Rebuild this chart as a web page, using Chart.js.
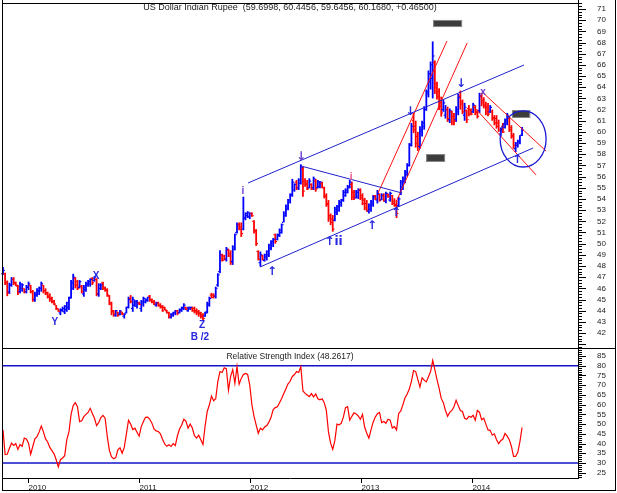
<!DOCTYPE html>
<html>
<head>
<meta charset="utf-8">
<script src="https://cdn.jsdelivr.net/npm/chart.js@4.4.1/dist/chart.umd.min.js"></script>
<style>
  html, body { margin: 0; padding: 0; background: #fff; overflow: hidden; }
  #wrap { position: relative; width: 617px; height: 493px; }
  #price { position: absolute; left: 0; top: 0; }
  #rsi { position: absolute; left: 0; top: 348px; }
</style>
</head>
<body>
<div id="wrap">
  <canvas id="price" width="617" height="348"></canvas>
  <canvas id="rsi" width="617" height="145"></canvas>
</div>
<script>
// weekly bars, the first one is the week ending 9 Oct 2009
const startDate = "2009-10-09";

const opens = [
  47.3, 47.3, 46.5, 45.7, 46.3, 46.8, 46.5, 46.2, 45.7, 46.0,
  46.0, 45.7, 46.1, 46.3, 45.7, 45.0, 45.4, 45.7, 46.0, 46.3,
  45.8, 45.6, 45.3, 45.1, 44.8, 44.5, 44.2, 43.8, 44.0, 43.9,
  44.1, 44.3, 45.2, 46.0, 46.9, 46.6, 46.1, 46.2, 45.5, 45.9,
  46.3, 46.4, 46.9, 46.7, 46.8, 45.5, 46.0, 46.5, 46.1, 45.9,
  45.3, 44.7, 44.0, 43.6, 43.9, 43.7, 43.9, 43.5, 43.8, 44.3,
  45.1, 44.2, 44.5, 44.4, 44.7, 44.2, 44.6, 44.8, 44.9, 45.3,
  45.0, 44.8, 44.5, 44.7, 44.5, 44.4, 44.3, 44.0, 43.8, 43.4,
  43.6, 43.8, 44.0, 43.8, 44.0, 44.2, 44.3, 44.0, 44.2, 44.2,
  44.2, 44.0, 43.9, 43.8, 43.6, 43.5, 43.9, 44.5, 45.4, 45.4,
  45.3, 46.3, 47.5, 49.0, 48.9, 48.6, 49.4, 49.1, 48.4, 49.5,
  51.0, 51.7, 51.5, 51.3, 52.3, 52.5, 52.4, 52.7, 52.0, 51.2,
  49.3, 48.3, 48.9, 48.5, 48.8, 49.0, 49.6, 50.0, 50.8, 50.4,
  50.7, 51.0, 51.9, 52.5, 53.1, 53.7, 54.3, 54.8, 55.5, 55.0,
  55.4, 56.7, 55.6, 55.4, 55.0, 55.3, 55.0, 55.6, 55.0, 55.1,
  55.4, 55.0, 54.3, 53.6, 52.5, 52.2, 52.1, 52.8, 53.0, 53.5,
  53.9, 54.3, 54.6, 55.0, 55.3, 54.6, 54.1, 54.2, 54.8, 54.3,
  53.9, 53.6, 52.9, 53.1, 53.5, 54.3, 53.9, 54.4, 53.9, 54.3,
  53.8, 54.4, 53.9, 54.3, 53.8, 53.5, 53.4, 54.4, 55.0, 55.6,
  56.2, 57.0, 58.9, 61.0, 60.5, 59.6, 58.7, 60.0, 60.5, 62.0,
  63.4, 64.5, 64.8, 66.2, 64.3, 63.6, 62.8, 62.0, 61.5, 62.0,
  61.1, 61.8, 61.4, 61.1, 61.8, 63.2, 62.7, 61.5, 61.9, 62.1,
  62.0, 61.8, 62.2, 61.8, 61.9, 63.2, 62.8, 62.4, 62.2, 61.8,
  61.8, 61.3, 61.2, 60.8, 59.8, 60.5, 60.4, 60.8, 61.2, 60.4,
  59.7, 58.5, 58.8, 59.1, 59.6998
];
const highs = [
  47.9, 47.4, 46.7, 46.5, 47.0, 47.0, 46.6, 46.3, 46.6, 46.45,
  46.0, 46.3, 46.6, 46.3, 45.85, 45.7, 46.0, 46.15, 46.6, 46.3,
  46.0, 45.7, 45.55, 45.25, 44.95, 44.5, 44.2, 44.2, 44.36, 44.5,
  44.8, 45.25, 46.74, 47.3, 47.0, 46.74, 46.74, 46.3, 46.3, 46.6,
  46.74, 46.9, 47.0, 47.1, 46.9, 46.45, 46.45, 46.6, 46.15, 46.0,
  45.4, 44.8, 44.06, 44.06, 43.9, 44.06, 43.9, 43.76, 44.36, 45.25,
  45.4, 45.25, 44.95, 44.95, 44.8, 44.95, 45.25, 45.1, 45.25, 45.4,
  45.1, 44.95, 44.8, 44.8, 44.66, 44.5, 44.36, 44.06, 43.9, 43.76,
  43.9, 44.06, 44.06, 44.2, 44.36, 44.66, 44.36, 44.36, 44.36, 44.36,
  44.36, 44.2, 44.06, 43.9, 43.76, 43.9, 44.8, 45.25, 45.6, 45.55,
  46.15, 47.35, 49.4, 49.1, 49.0, 49.7, 49.55, 49.4, 49.85, 50.9,
  51.9, 51.9, 51.9, 54.2, 52.8, 52.9, 52.8, 52.8, 52.1, 51.3,
  49.4, 49.3, 49.0, 49.1, 49.4, 50.0, 50.3, 50.5, 50.9, 50.9,
  51.35, 51.8, 52.9, 53.5, 54.0, 54.5, 55.8, 55.4, 55.7, 55.85,
  57.1, 56.9, 55.85, 55.7, 55.85, 55.4, 56.0, 55.8, 55.7, 55.6,
  55.55, 55.1, 54.5, 53.9, 52.7, 52.56, 53.3, 53.45, 53.9, 54.0,
  54.8, 54.95, 55.25, 55.7, 55.55, 54.8, 54.8, 54.95, 54.95, 54.5,
  54.1, 53.9, 53.6, 53.9, 54.35, 54.35, 54.8, 54.5, 54.5, 54.5,
  54.65, 54.5, 54.65, 54.35, 54.06, 53.91, 54.2, 55.7, 56.0, 56.6,
  57.2, 59.0, 60.8, 61.7, 61.0, 60.0, 60.5, 61.0, 62.3, 63.8,
  65.5, 66.3, 68.1, 66.4, 64.5, 63.9, 63.16, 62.9, 62.4, 62.26,
  62.1, 61.9, 61.7, 62.3, 63.4, 63.7, 62.9, 62.6, 62.0, 62.4,
  62.1, 62.6, 62.4, 62.0, 63.5, 63.5, 63.1, 62.7, 62.6, 62.4,
  62.0, 61.5, 61.5, 61.1, 60.4, 60.8, 61.2, 61.7, 61.4, 60.6,
  59.9, 59.1, 59.3, 59.7, 60.4456
];
const lows = [
  47.2, 46.3, 45.3, 45.5, 46.15, 46.3, 46.2, 45.4, 45.55, 45.7,
  45.55, 45.55, 45.85, 45.55, 44.8, 44.8, 45.25, 45.4, 45.7, 45.55,
  45.4, 45.1, 44.8, 44.66, 44.5, 44.06, 43.9, 43.6, 43.9, 43.7,
  43.9, 44.06, 45.1, 45.85, 46.0, 45.85, 46.0, 45.55, 45.25, 45.7,
  46.15, 46.15, 46.3, 46.6, 45.3, 45.25, 45.85, 45.85, 45.7, 45.25,
  44.5, 43.6, 43.46, 43.46, 43.46, 43.6, 43.6, 43.3, 43.76, 44.2,
  44.66, 43.9, 44.36, 44.2, 44.5, 43.9, 44.36, 44.66, 44.8, 44.8,
  44.66, 44.5, 44.36, 44.36, 44.2, 43.9, 44.06, 43.76, 43.3, 43.3,
  43.46, 43.6, 43.6, 43.76, 43.9, 44.06, 44.06, 43.9, 44.06, 43.9,
  43.76, 43.6, 43.46, 43.3, 43.16, 43.46, 43.76, 44.36, 45.1, 45.1,
  45.1, 46.15, 47.35, 48.4, 48.5, 48.4, 48.8, 48.1, 48.1, 49.4,
  50.9, 51.2, 50.6, 51.2, 52.1, 52.3, 52.2, 52.4, 50.9, 49.8,
  48.5, 47.95, 48.5, 48.4, 48.5, 48.8, 49.4, 49.7, 50.0, 50.3,
  50.6, 50.9, 51.9, 52.4, 53.0, 53.6, 54.2, 54.65, 54.8, 54.8,
  55.3, 54.2, 55.1, 54.8, 54.95, 54.8, 54.8, 54.65, 54.95, 54.95,
  54.95, 54.05, 53.3, 51.96, 51.66, 51.07, 52.0, 52.56, 52.86, 53.3,
  53.75, 54.2, 54.5, 54.95, 53.9, 53.9, 54.05, 54.0, 53.9, 53.45,
  53.0, 52.86, 52.7, 52.86, 53.3, 53.9, 53.6, 53.76, 53.9, 53.76,
  53.61, 54.1, 53.76, 53.46, 53.31, 52.3, 53.3, 54.35, 54.8, 55.4,
  56.0, 56.9, 58.7, 59.9, 58.6, 58.3, 58.5, 59.6, 60.2, 61.9,
  63.1, 63.8, 63.0, 63.4, 62.9, 61.96, 61.37, 61.8, 61.2, 60.9,
  60.8, 60.6, 60.6, 60.9, 61.5, 62.0, 61.6, 61.0, 60.8, 61.4,
  61.5, 61.7, 61.5, 61.2, 61.7, 62.3, 62.1, 61.5, 61.4, 61.7,
  61.0, 60.6, 60.3, 60.0, 59.6, 59.9, 60.3, 60.6, 60.0, 59.4,
  58.5, 58.2, 58.6, 58.9, 59.6456
];
const closes = [
  47.6, 46.5, 45.6, 46.3, 46.8, 46.5, 46.3, 45.6, 46.4, 46.3,
  45.7, 46.1, 46.4, 45.7, 45.0, 45.5, 45.8, 46.0, 46.4, 45.8,
  45.5, 45.2, 45.0, 44.8, 44.6, 44.2, 43.95, 44.1, 44.2, 44.4,
  44.7, 45.1, 46.5, 47.0, 46.3, 46.0, 46.6, 45.7, 46.1, 46.4,
  46.6, 46.8, 46.5, 47.0, 45.5, 46.3, 46.3, 46.0, 45.8, 45.4,
  44.6, 43.9, 43.7, 44.0, 43.6, 43.95, 43.7, 43.7, 44.3, 45.0,
  44.8, 45.0, 44.8, 44.7, 44.55, 44.8, 45.1, 45.0, 45.2, 44.9,
  44.75, 44.6, 44.7, 44.45, 44.3, 44.0, 44.1, 43.8, 43.5, 43.7,
  43.85, 44.0, 43.8, 44.1, 44.3, 44.5, 44.15, 44.3, 44.3, 44.0,
  43.9, 43.8, 43.7, 43.5, 43.3, 43.8, 44.6, 45.1, 45.2, 45.3,
  46.0, 47.2, 49.0, 48.5, 48.6, 49.5, 48.9, 48.3, 49.7, 50.8,
  51.7, 51.3, 50.9, 52.3, 52.7, 52.8, 52.7, 52.5, 51.1, 50.0,
  48.6, 49.0, 48.6, 49.0, 49.3, 49.8, 50.2, 50.4, 50.2, 50.8,
  51.2, 51.7, 52.7, 53.3, 53.9, 54.4, 55.5, 55.3, 55.0, 55.7,
  56.8, 54.7, 55.3, 54.9, 55.6, 54.9, 55.8, 54.9, 55.5, 55.5,
  55.0, 54.2, 53.5, 52.3, 51.9, 51.3, 53.1, 53.3, 53.7, 53.9,
  54.6, 54.8, 55.1, 55.5, 54.2, 54.1, 54.6, 54.8, 54.1, 53.6,
  53.2, 53.0, 53.4, 53.7, 54.2, 54.0, 54.5, 53.9, 54.35, 53.9,
  54.5, 54.2, 54.5, 53.6, 53.4, 52.7, 54.0, 55.5, 55.8, 56.4,
  57.0, 58.8, 60.5, 60.2, 59.0, 58.8, 60.2, 60.8, 62.0, 63.6,
  65.2, 66.0, 66.8, 64.0, 63.2, 62.3, 61.7, 62.6, 62.0, 61.2,
  61.9, 60.9, 61.0, 62.0, 63.1, 62.5, 61.8, 62.2, 61.1, 61.6,
  61.6, 62.4, 61.7, 61.4, 63.2, 62.6, 62.3, 61.8, 61.6, 62.2,
  61.2, 60.8, 60.5, 60.2, 60.2, 60.0, 61.0, 61.5, 60.2, 59.6,
  58.8, 59.0, 59.2, 59.7, 60.168
];
const rsiValues = [
  47.0, 34.3, 34.5, 37.5, 40.2, 39.0, 40.0, 37.0, 39.5, 38.5,
  42.8, 42.4, 40.2, 34.5, 38.5, 42.4, 43.6, 46.0, 49.0, 46.0,
  42.4, 40.8, 38.0, 36.4, 34.7, 31.7, 28.0, 31.7, 32.6, 33.8,
  42.0, 46.0, 55.0, 59.5, 61.0, 58.9, 51.3, 51.7, 53.8, 55.0,
  56.0, 58.1, 55.5, 53.0, 49.2, 50.8, 53.4, 54.5, 53.0, 43.8,
  36.5, 33.3, 32.2, 32.8, 36.8, 37.8, 35.0, 38.0, 45.0, 52.0,
  50.0, 47.2, 47.9, 45.8, 43.8, 48.7, 51.3, 53.5, 53.6, 52.5,
  50.5, 47.5, 46.5, 46.2, 45.0, 42.2, 39.8, 38.6, 39.4, 38.5,
  40.0, 39.0, 44.0, 47.5, 49.5, 52.5, 51.5, 47.9, 50.0, 48.0,
  44.0, 42.8, 44.3, 41.9, 39.5, 49.0, 56.5, 59.8, 64.4, 62.0,
  63.0, 72.0, 77.0, 76.5, 79.0, 78.5, 67.4, 74.5, 78.0, 71.0,
  79.5, 70.5, 73.5, 75.5, 76.0, 75.5, 70.0, 60.0, 54.0, 49.6,
  45.3, 47.9, 47.0, 48.5, 49.3, 51.0, 53.5, 57.5, 58.5, 58.9,
  61.0, 63.2, 65.7, 68.2, 70.7, 72.0, 74.5, 75.5, 77.0, 76.5,
  79.5, 67.0, 65.8, 65.0, 64.1, 65.7, 64.0, 65.5, 63.0, 62.5,
  63.0, 61.0, 57.0, 46.0, 40.2, 37.0, 41.5, 50.0, 49.6, 50.4,
  53.6, 58.5, 59.0, 52.0, 54.0, 55.8, 55.2, 54.2, 52.5, 55.0,
  48.5, 45.3, 42.8, 47.0, 51.0, 53.6, 55.3, 56.0, 50.8, 51.3,
  50.4, 52.5, 52.0, 48.0, 48.7, 47.0, 55.5, 56.8, 60.0, 63.5,
  65.5, 68.0, 72.0, 77.5, 77.0, 73.0, 69.0, 73.8, 72.6, 71.7,
  74.3, 77.0, 82.7, 78.0, 73.0, 68.5, 63.2, 61.0, 57.0, 54.0,
  56.0, 57.0, 58.9, 62.3, 59.5, 57.0, 56.5, 53.0, 52.5, 54.0,
  53.5, 54.5, 52.0, 57.0, 56.0, 52.2, 53.0, 50.0, 47.0, 46.8,
  44.3, 45.0, 42.0, 40.0, 41.5, 42.3, 45.2, 43.8, 42.0, 38.5,
  33.4, 33.4, 35.5, 41.0, 48.26
];

const priceTicks = [42, 43, 44, 45, 46, 47, 48, 49, 50, 51, 52, 53, 54, 55, 56,
  57, 58, 59, 60, 61, 62, 63, 64, 65, 66, 67, 68, 69, 70, 71];
const rsiTicks = [25, 30, 35, 40, 45, 50, 55, 60, 65, 70, 75, 80, 85];
const rsiBands = [80, 30];
const yearLabels = ["2010", "2011", "2012", "2013", "2014"];

// drawn-in analysis, in (week index, price)
const blueLines = [
  [115.2, 55.43, 244.9, 65.99],
  [120.8, 47.91, 249.2, 58.56],
  [140.1, 56.95, 187.6, 54.53]
];
const redLines = [
  [176.3, 54.53, 208.7, 68.14],
  [185.2, 53.91, 218.2, 67.96],
  [225.7, 63.49, 255.3, 58.29],
  [221.0, 62.32, 250.6, 56.15]
];
const greyBoxes = [
  [202.2, 70.02, 215.8, 69.39],
  [198.9, 58.02, 207.8, 57.31],
  [239.3, 61.96, 247.8, 61.25]
];
const circle = [244.5, 59.37, 10.8, 2.51];
const waveLabels = [
  ["Y", 24.4, 42.98, "blue"],
  ["X", 43.7, 47.1, "blue"],
  ["Z", 93.6, 42.72, "blue"],
  ["B /2", 92.6, 41.64, "blue"],
  ["i", 112.8, 54.71, "violet"],
  ["↑", 126.5, 47.46, "blue"],
  ["↓", 140.1, 57.76, "violet"],
  ["↑ii", 155.4, 50.15, "blue"],
  ["i", 163.6, 55.97, "pink"],
  ["↑", 173.5, 51.58, "blue"],
  ["↑", 184.8, 52.74, "blue"],
  ["↓", 191.4, 61.78, "blue"],
  ["↓", 215.3, 64.29, "blue"],
  ["x", 225.7, 63.58, "violet"],
  ["↑", 241.7, 57.49, "blue"]
];

const TITLE = "US Dollar Indian Rupee  (59.6998, 60.4456, 59.6456, 60.1680, +0.46500)";
const RSI_TITLE = "Relative Strength Index (48.2617)";

const BLUE = "#0000ff", RED = "#ff0000";
const LABEL_COLOURS = { blue: "#2828e0", violet: "#6a3ed2", pink: "#e8508a" };
const FONT = '"Liberation Sans", Arial, sans-serif';
const X_MIN = -0.47, X_MAX = 270.3;

const WEEK = 7 * 24 * 3600 * 1000;
const yearTicks = yearLabels.map(y => (Date.parse(y + "-01-01") - Date.parse(startDate)) / WEEK);
const idx = closes.map((_, k) => k);
const barColour = k => closes[k] >= opens[k] ? BLUE : RED;

function seg(ctx, x1, y1, x2, y2) {
  ctx.beginPath(); ctx.moveTo(x1, y1); ctx.lineTo(x2, y2); ctx.stroke();
}

// major/minor tick marks on the right-hand axis
function axisMarks(ctx, scale, step, per, x0) {
  const first = Math.ceil(scale.min / step), last = Math.floor(scale.max / step);
  for (let k = first; k <= last; k++) {
    const yy = Math.round(scale.getPixelForValue(k * step)) + 0.5;
    seg(ctx, x0, yy, x0 + (k % per === 0 ? 7 : 3), yy);
  }
}

function trendLine(l, colour) {
  return {
    type: "line",
    data: [{ x: l[0], y: l[1] }, { x: l[2], y: l[3] }],
    borderColor: colour, borderWidth: 1, pointRadius: 0, fill: false, order: 1
  };
}

// no label padding around the plot, so the plot area is exactly where the layout puts it
const noPad = s => { s.paddingTop = 0; s.paddingBottom = 0; s.paddingLeft = 0; s.paddingRight = 0; };

const ohlcTicks = {
  id: "ohlcTicks",
  afterDatasetDraw(chart, args) {
    if (args.index !== 0) return;
    const { ctx, scales: { x, y } } = chart;
    ctx.save();
    idx.forEach(k => {
      const px = x.getPixelForValue(k);
      ctx.fillStyle = barColour(k);
      ctx.fillRect(px - 1.8, y.getPixelForValue(opens[k]) - 0.6, 1.2, 1.2);
      ctx.fillRect(px + 0.6, y.getPixelForValue(closes[k]) - 0.6, 1.2, 1.2);
    });
    ctx.restore();
  }
};

const annotate = {
  id: "annotate",
  afterDatasetsDraw(chart) {
    const { ctx, scales: { x, y } } = chart;
    ctx.save();
    greyBoxes.forEach(([i0, p0, i1, p1]) => {
      const l = x.getPixelForValue(i0), t = y.getPixelForValue(p0);
      const w = x.getPixelForValue(i1) - l, h = y.getPixelForValue(p1) - t;
      ctx.fillStyle = "#3c3c3c";
      ctx.fillRect(l, t, w, h);
      ctx.strokeStyle = "#8a8a8a"; ctx.lineWidth = 1;
      ctx.strokeRect(l + 0.5, t + 0.5, w - 1, h - 1);
    });
    const [ci, cp, ri, rp] = circle;
    const cx = x.getPixelForValue(ci), cy = y.getPixelForValue(cp);
    ctx.beginPath();
    ctx.ellipse(cx, cy, x.getPixelForValue(ci + ri) - cx, cy - y.getPixelForValue(cp + rp), 0, 0, Math.PI * 2);
    ctx.strokeStyle = "#1a1ad6"; ctx.lineWidth = 1.3; ctx.stroke();
    ctx.textAlign = "center"; ctx.textBaseline = "middle";
    waveLabels.forEach(([t, i, p, kind]) => {
      const arrow = /[↑↓]/.test(t);
      ctx.font = arrow ? 'bold 12px "DejaVu Sans"' : "bold 10px " + FONT;
      ctx.fillStyle = LABEL_COLOURS[kind];
      ctx.fillText(t, x.getPixelForValue(i), y.getPixelForValue(p));
    });
    ctx.restore();
  }
};

const framePrice = {
  id: "framePrice",
  afterDraw(chart) {
    const { ctx, chartArea: a, scales: { y } } = chart;
    ctx.save();
    ctx.strokeStyle = "#000"; ctx.lineWidth = 1;
    seg(ctx, a.left + 0.5, 0, a.left + 0.5, chart.height);
    seg(ctx, a.left, a.top + 0.5, a.right, a.top + 0.5);
    seg(ctx, a.right + 0.5, 0, a.right + 0.5, chart.height);
    seg(ctx, chart.width - 1.5, 0, chart.width - 1.5, chart.height);
    axisMarks(ctx, y, 0.25, 4, a.right + 1);
    ctx.fillStyle = "#222";
    ctx.font = "9px " + FONT;
    ctx.textAlign = "center"; ctx.textBaseline = "middle";
    ctx.fillText(TITLE, (a.left + a.right) / 2, a.top + 5);
    ctx.restore();
  }
};

const frameRsi = {
  id: "frameRsi",
  afterDraw(chart) {
    const { ctx, chartArea: a, scales: { y } } = chart;
    ctx.save();
    ctx.strokeStyle = "#000"; ctx.lineWidth = 1;
    seg(ctx, a.left, 0.5, chart.width - 1, 0.5);
    seg(ctx, a.left + 0.5, 0, a.left + 0.5, chart.height - 2);
    seg(ctx, a.right + 0.5, 0, a.right + 0.5, a.bottom);
    seg(ctx, a.left, a.bottom + 0.5, a.right + 1, a.bottom + 0.5);
    seg(ctx, a.left, chart.height - 2.5, chart.width - 1, chart.height - 2.5);
    seg(ctx, chart.width - 1.5, 0, chart.width - 1.5, chart.height - 2);
    axisMarks(ctx, y, 1, 5, a.right + 1);
    ctx.fillStyle = "#222";
    ctx.font = "8.5px " + FONT;
    ctx.textAlign = "center"; ctx.textBaseline = "middle";
    ctx.fillText(RSI_TITLE, (a.left + a.right) / 2, 9);
    ctx.restore();
  }
};

const tickFont = { family: FONT, size: 8 };
const rightAxis = (min, max, list) => ({
  position: "right", min, max,
  afterBuildTicks: s => { s.ticks = list.map(v => ({ value: v })); },
  afterFit: s => { s.width = 39; noPad(s); },
  grid: { display: false, tickLength: 8 },
  border: { display: false },
  ticks: { padding: 11, font: tickFont, color: "#222", autoSkip: false }
});

new Chart(document.getElementById("price"), {
  type: "bar",
  data: {
    datasets: [
      {
        data: idx.map(k => ({ x: k, y: [lows[k], highs[k]] })),
        backgroundColor: idx.map(barColour),
        barThickness: 1.8,
        inflateAmount: 0,
        borderWidth: 0,
        order: 2
      },
      ...blueLines.map(l => trendLine(l, "#2020cc")),
      ...redLines.map(l => trendLine(l, "#ff1010"))
    ]
  },
  options: {
    responsive: false,
    animation: false,
    events: [],
    layout: { autoPadding: false, padding: { left: 2, top: 3, right: 0, bottom: 0 } },
    plugins: { legend: { display: false }, tooltip: { enabled: false } },
    scales: {
      x: { type: "linear", display: false, min: X_MIN, max: X_MAX, offset: false, afterFit: noPad },
      y: rightAxis(40.66, 71.54, priceTicks)
    }
  },
  plugins: [ohlcTicks, annotate, framePrice]
});

new Chart(document.getElementById("rsi"), {
  type: "line",
  data: {
    datasets: [
      {
        data: idx.map(k => ({ x: k, y: rsiValues[k] })),
        borderColor: RED, borderWidth: 1.2, pointRadius: 0, tension: 0, order: 1
      },
      ...rsiBands.map(v => ({
        data: [{ x: X_MIN, y: v }, { x: X_MAX, y: v }],
        borderColor: "#1414c8", borderWidth: 1.5, pointRadius: 0, order: 2
      }))
    ]
  },
  options: {
    responsive: false,
    animation: false,
    events: [],
    layout: { autoPadding: false, padding: { left: 2, top: 1, right: 0, bottom: 0 } },
    plugins: { legend: { display: false }, tooltip: { enabled: false } },
    scales: {
      x: {
        type: "linear", min: X_MIN, max: X_MAX, offset: false,
        afterBuildTicks: s => { s.ticks = yearTicks.map(v => ({ value: v })); },
        afterFit: s => { s.height = 15; noPad(s); },
        grid: { drawOnChartArea: false, tickLength: 5, color: "#000" },
        border: { display: false },
        ticks: {
          align: "start", padding: 0, font: tickFont, color: "#222",
          autoSkip: false, maxRotation: 0,
          callback: (v, i) => yearLabels[i]
        }
      },
      y: rightAxis(22.3, 88.6, rsiTicks)
    }
  },
  plugins: [frameRsi]
});
</script>
</body>
</html>
